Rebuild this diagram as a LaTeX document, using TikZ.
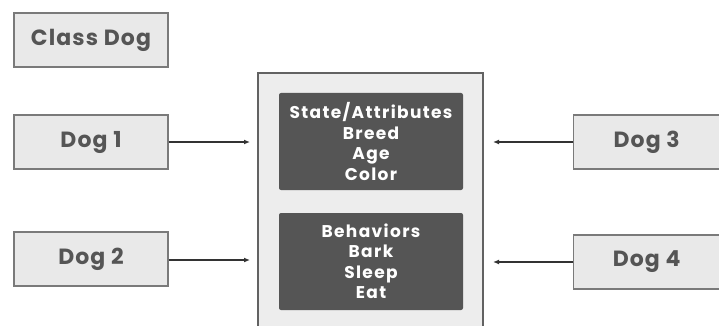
\documentclass[tikz,border=0pt]{standalone}
\usepackage{fontspec}
\setmainfont{Poppins}
\usetikzlibrary{arrows.meta}
\definecolor{boxfill}{HTML}{E9E9E9}
\definecolor{boxline}{HTML}{7A7A7A}
\definecolor{txt}{HTML}{555555}
\definecolor{dark}{HTML}{555555}
\definecolor{bigfill}{HTML}{EDEDED}
\tikzset{
  dogbox/.style={draw=boxline, line width=1.3pt, fill=boxfill, text=txt, font=\fontsize{22}{24}\selectfont\bfseries\addfontfeatures{LetterSpace=5}, inner sep=0pt},
  inbox/.style={fill=dark, rounded corners=2pt, text=white, font=\fontsize{17}{20.5}\selectfont\bfseries\addfontfeatures{LetterSpace=8}, align=center, inner sep=0pt},
  conn/.style={draw=black!80, line width=1.4pt, -{Latex[length=6pt,width=5pt]}}
}
\begin{document}
\begin{tikzpicture}[x=1pt,y=-1pt]
\useasboundingbox (0,0) rectangle (719,326);
\node[dogbox, minimum width=154pt, minimum height=54pt] (cls) at (91,40) {Class Dog};
\node[dogbox, minimum width=154pt, minimum height=54pt] (d1) at (91,142) {Dog 1};
\node[dogbox, minimum width=154pt, minimum height=54pt] (d2) at (91,259) {Dog 2};
\node[dogbox, minimum width=146pt, minimum height=54pt, anchor=west] (d3) at (573,142) {Dog 3};
\node[dogbox, minimum width=146pt, minimum height=54pt, anchor=west] (d4) at (573,262) {Dog 4};
\path[draw=boxline!80!black, line width=1.5pt, fill=bigfill] (258,334) -- (258,73) -- (483,73) -- (483,334);
\coordinate (bigL1) at (258,142);
\coordinate (bigL2) at (258,260);
\coordinate (bigR1) at (483,142);
\coordinate (bigR2) at (483,262);
\node[inbox, minimum width=184pt, minimum height=97pt] (st) at (371,141.5) {State/Attributes\\Breed\\Age\\Color};
\node[inbox, minimum width=184pt, minimum height=97pt] (bh) at (371,261.5) {Behaviors\\Bark\\Sleep\\Eat};
\draw[conn] (d1.east) -- ([xshift=-8pt]bigL1);
\draw[conn] (d2.east |- bigL2) -- ([xshift=-8pt]bigL2);
\draw[conn] (d3.west) -- ([xshift=10pt]bigR1);
\draw[conn] (d4.west) -- ([xshift=10pt]bigR2);
\end{tikzpicture}
\end{document}
